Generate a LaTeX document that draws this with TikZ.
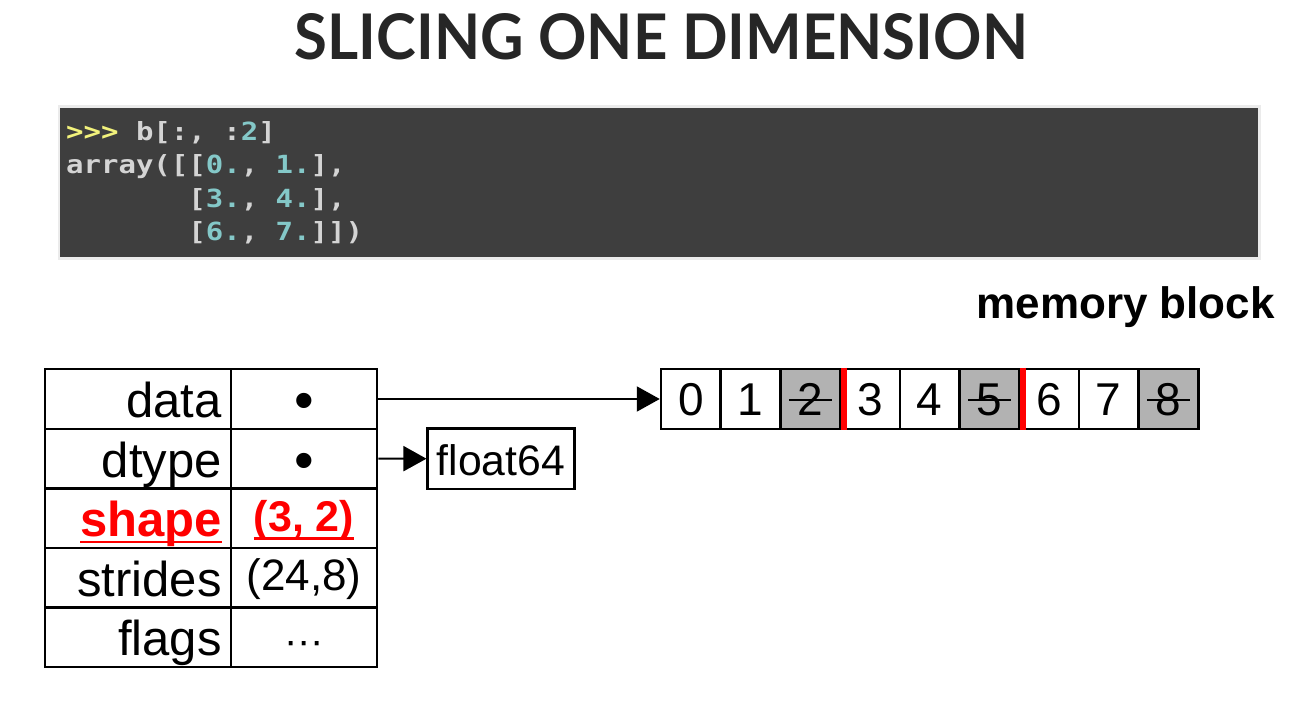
\documentclass[tikz,border=0pt]{standalone}
\usepackage{fontspec}
\usepackage{graphicx}
\usetikzlibrary{arrows.meta,calc}
\setmainfont{Liberation Sans}
\newfontfamily\titlefont{Lato}
\newfontfamily\codefont[FakeStretch=1.16]{DejaVu Sans Mono}
\definecolor{codebg}{HTML}{3E3E3E}
\definecolor{codetxt}{HTML}{D4D4D4}
\definecolor{codenum}{HTML}{84C8C8}
\definecolor{codeprompt}{HTML}{F2F27C}
\definecolor{titlecol}{HTML}{262626}
\definecolor{memgray}{HTML}{B2B2B2}
\definecolor{slred}{HTML}{FF0000}
\newcommand\nm[1]{\textcolor{codenum}{#1}}
\newcommand\myuline[3]{\setbox0=\hbox{#3}\rlap{\rule[-#1]{\wd0}{#2}}\box0}
\tikzset{
  tcell/.style={draw, line width=2.5pt, inner sep=0pt, minimum height=59.6pt},
  lab/.style={tcell, minimum width=186pt, text width=167.4pt, align=right,
    font=\fontsize{49}{50}\selectfont, text height=37pt, text depth=0pt},
  val/.style={tcell, minimum width=146pt, align=center,
    font=\fontsize{44}{45}\selectfont, text height=26pt, text depth=0pt},
  bul/.style={val, text height=40.8pt, font=\fontsize{56}{58}\selectfont},
  mem/.style={draw, line width=2.5pt, inner sep=0pt, minimum width=59.7pt,
    minimum height=59.6pt, font=\fontsize{46}{47}\selectfont,
    text height=33.4pt, text depth=0pt},
  memg/.style={mem, fill=memgray},
  strike/.style={line width=2pt},
  redbar/.style={slred, line width=6pt},
  arr/.style={line width=2pt, -{Triangle[length=23pt,width=25pt]}},
  codeline/.style={anchor=base west, inner sep=0pt,
    font=\codefont\bfseries\fontsize{25}{26}\selectfont, text=codetxt},
}
\begin{document}
\begin{tikzpicture}[x=1pt,y=-1pt]
\useasboundingbox (0,0) rectangle (1306,703);
\fill[white] (0,0) rectangle (1306,703);
% title
\node[inner sep=0pt, text=titlecol] (title) at (661.3,36.3)
  {\resizebox{733pt}{46pt}{\titlefont\bfseries SLICING ONE DIMENSION}};
% code box
\fill[black!8] (57.5,105.5) rectangle (1260.5,260);
\node[fill=codebg, inner sep=0pt, minimum width=1198pt, minimum height=149pt,
  anchor=north west] (code) at (60,108.3) {};
\node[codeline] (c1) at (66,140.5)
  {\textcolor{codeprompt}{>>>} b[:, :\nm{2}]};
\node[codeline] (c2) at (66,174)
  {array([[\nm{0.}, \nm{1.}],};
\node[codeline] (c3) at (66,207.5)
  {\phantom{array([}[\nm{3.}, \nm{4.}],};
\node[codeline] (c4) at (66,241)
  {\phantom{array([}[\nm{6.}, \nm{7.}]])};
% memory block title
\node[anchor=base east, inner sep=0pt,
  font=\bfseries\fontsize{44}{46}\selectfont] (mb) at (1275,318.3) {memory block};
% table
\node[lab] (l1) at (138,399) {data};
\node[lab] (l2) at (138,458.6) {dtype};
\node[lab] (l3) at (138,518.2) {\textcolor{slred}{\bfseries\myuline{6.6pt}{2.7pt}{shape}}};
\node[lab] (l4) at (138,577.8) {strides};
\node[lab] (l5) at (138,637.4) {flags};
\node[bul] (v1) at (304,399) {•};
\node[bul] (v2) at (304,458.6) {•};
\node[val, font=\bfseries\fontsize{43}{45}\selectfont] (v3) at (304,518.2)
  {\textcolor{slred}{\myuline{8.3pt}{2.6pt}{(3, 2)}}};
\node[val] (v4) at (304,577.8) {(24,8)};
\node[val, text height=35pt, font=\fontsize{40}{42}\selectfont] (v5) at (304,637.4) {···};
% float64 box
\node[draw, line width=2.5pt, inner sep=0pt, minimum width=146.6pt, minimum height=60.7pt,
  font=\fontsize{42.7}{44}\selectfont, text height=34pt, text depth=0pt] (f) at (501,458.7) {float64};
% memory cells
\node[mem]  (m0) at (690.85,399) {0};
\node[mem]  (m1) at (750.55,399) {1};
\node[memg] (m2) at (810.25,399) {2};
\node[mem]  (m3) at (869.95,399) {3};
\node[mem]  (m4) at (929.65,399) {4};
\node[memg] (m5) at (989.35,399) {5};
\node[mem]  (m6) at (1049.05,399) {6};
\node[mem]  (m7) at (1108.75,399) {7};
\node[memg] (m8) at (1168.45,399) {8};
\draw[strike] (m2.center) ++(-21.5,1) -- ++(43,0);
\draw[strike] (m5.center) ++(-21.5,1) -- ++(43,0);
\draw[strike] (m8.center) ++(-21.5,1) -- ++(43,0);
\draw[redbar] ($(m2.north east)+(3,0)$) -- ($(m2.south east)+(3,0)$);
\draw[redbar] ($(m5.north east)+(3,0)$) -- ($(m5.south east)+(3,0)$);
% connectors
\draw[arr] (v1.east) -- (m0.west);
\draw[arr] (v2.east) -- (f.west);
\end{tikzpicture}
\end{document}
